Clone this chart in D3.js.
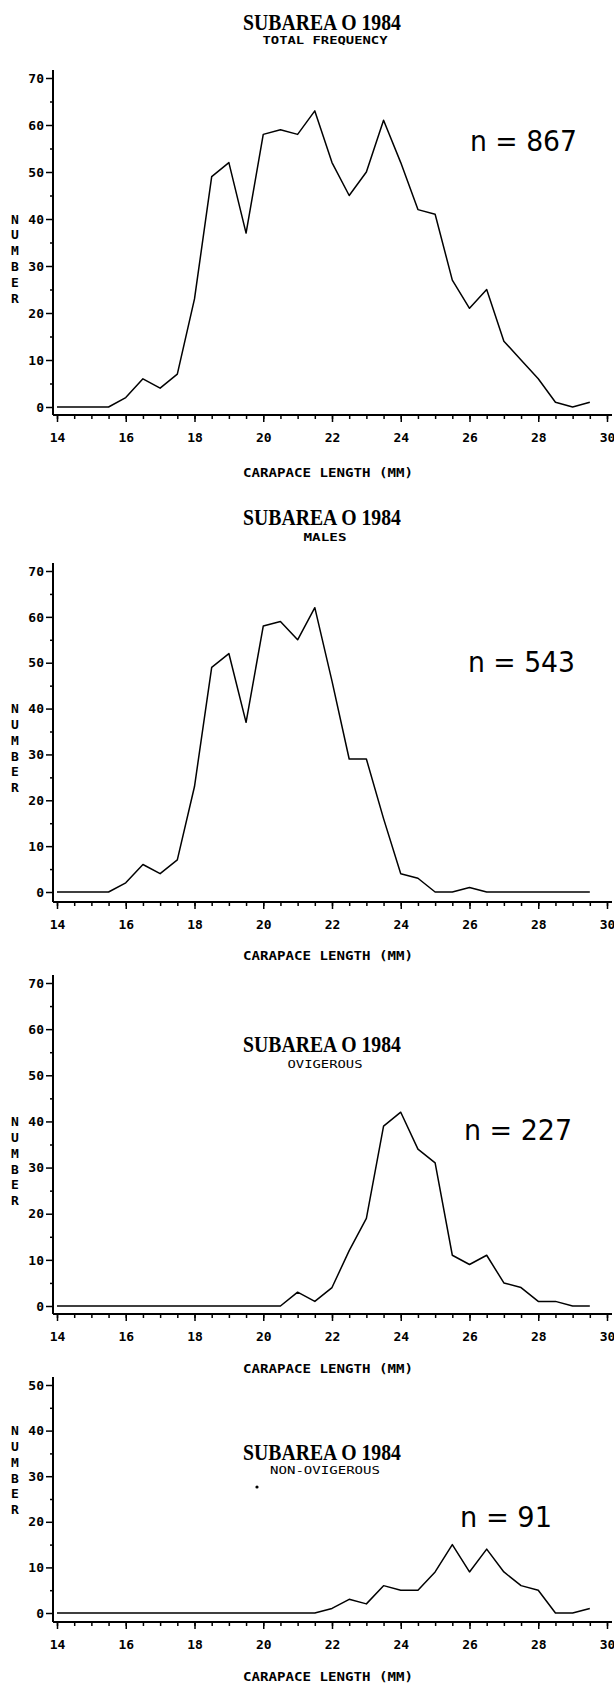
<!DOCTYPE html>
<html>
<head>
<meta charset="utf-8">
<script src="https://cdn.jsdelivr.net/npm/d3@7"></script>
<style>
  body { margin: 0; background: #fff; }
  svg { display: block; }
</style>
</head>
<body>
<div id="chart"></div>
<script>
// carapace length classes (mm)
const sizes = [14, 14.5, 15, 15.5, 16, 16.5, 17, 17.5, 18, 18.5, 19, 19.5, 20, 20.5, 21, 21.5,
  22, 22.5, 23, 23.5, 24, 24.5, 25, 25.5, 26, 26.5, 27, 27.5, 28, 28.5, 29, 29.5];

// counts
const totalFreq = [0, 0, 0, 0, 2, 6, 4, 7, 23, 49, 52, 37, 58, 59, 58, 63,
  52, 45, 50, 61, 52, 42, 41, 27, 21, 25, 14, 10, 6, 1, 0, 1];
const males = [0, 0, 0, 0, 2, 6, 4, 7, 23, 49, 52, 37, 58, 59, 55, 62,
  46, 29, 29, 16, 4, 3, 0, 0, 1, 0, 0, 0, 0, 0, 0, 0];
const ovigerous = [0, 0, 0, 0, 0, 0, 0, 0, 0, 0, 0, 0, 0, 0, 3, 1,
  4, 12, 19, 39, 42, 34, 31, 11, 9, 11, 5, 4, 1, 1, 0, 0];
const nonOvigerous = [0, 0, 0, 0, 0, 0, 0, 0, 0, 0, 0, 0, 0, 0, 0, 0,
  1, 3, 2, 6, 5, 5, 9, 15, 9, 14, 9, 6, 5, 0, 0, 1];

const title = "SUBAREA O 1984";
const subtitles = ["TOTAL FREQUENCY", "MALES", "OVIGEROUS", "NON-OVIGEROUS"];
const nLabels = ["n = 867", "n = 543", "n = 227", "n = 91"];
const xTicks = [14, 16, 18, 20, 22, 24, 26, 28, 30];
const yTicks70 = [0, 10, 20, 30, 40, 50, 60, 70];
const yTicks50 = [0, 10, 20, 30, 40, 50];
const xLabel = "CARAPACE LENGTH (MM)";
const yLabel = "NUMBER";

const W = 614, H = 1684;
const monoFont = "'DejaVu Sans Mono', monospace";

// page layout of the four stacked plots
const panels = [
  { values: totalFreq, yTicks: yTicks70, titleY: 30, subY: 44, subW: 125, subBold: true,
    yTop: 78, yZero: 407, axisY: 415, nX: 470, nY: 151, nW: 107, xLabY: 477 },
  { values: males, yTicks: yTicks70, titleY: 525, subY: 541, subW: 43, subBold: true,
    yTop: 571, yZero: 892, axisY: 902, nX: 468, nY: 672, nW: 107, xLabY: 960 },
  { values: ovigerous, yTicks: yTicks70, titleY: 1052, subY: 1068, subW: 75, subBold: false,
    yTop: 983, yZero: 1306, axisY: 1314, nX: 464, nY: 1140, nW: 108, xLabY: 1373 },
  { values: nonOvigerous, yTicks: yTicks50, titleY: 1460, subY: 1474, subW: 110, subBold: false,
    yTop: 1385, yZero: 1613, axisY: 1622, nX: 460, nY: 1527, nW: 92, xLabY: 1681 }
];

const svg = d3.select("#chart").append("svg")
  .attr("width", W)
  .attr("height", H);

svg.append("rect").attr("width", W).attr("height", H).attr("fill", "#fff");

const x = d3.scaleLinear().domain([14, 30]).range([57, 607]);
const axisX = 53;

panels.forEach((p, i) => {
  const g = svg.append("g");
  const yMax = d3.max(p.yTicks);
  const y = d3.scaleLinear().domain([0, yMax]).range([p.yZero, p.yTop]);

  // titles
  g.append("text")
    .attr("x", 322).attr("y", p.titleY)
    .attr("text-anchor", "middle")
    .attr("font-family", "'Liberation Serif', serif")
    .attr("font-weight", "bold")
    .attr("font-size", 24)
    .attr("textLength", 158)
    .attr("lengthAdjust", "spacingAndGlyphs")
    .text(title);

  g.append("text")
    .attr("x", 325).attr("y", p.subY)
    .attr("text-anchor", "middle")
    .attr("font-family", monoFont)
    .attr("font-weight", p.subBold ? "bold" : "normal")
    .attr("font-size", 10)
    .attr("textLength", p.subW)
    .attr("lengthAdjust", "spacingAndGlyphs")
    .text(subtitles[i]);

  // axis lines
  g.append("line")
    .attr("x1", axisX).attr("x2", axisX)
    .attr("y1", p.yTop - 8).attr("y2", p.axisY)
    .attr("stroke", "#000").attr("stroke-width", 2);
  g.append("line")
    .attr("x1", axisX).attr("x2", 612)
    .attr("y1", p.axisY).attr("y2", p.axisY)
    .attr("stroke", "#000").attr("stroke-width", 2);

  // x ticks: minor every 0.5 mm, major every 2 mm
  const xMinor = g.append("g")
    .attr("transform", `translate(0,${p.axisY})`)
    .call(d3.axisBottom(x).tickValues(d3.range(14, 30.01, 0.5)).tickSize(4).tickFormat(""));
  xMinor.select(".domain").remove();

  const xMajor = g.append("g")
    .attr("transform", `translate(0,${p.axisY})`)
    .call(d3.axisBottom(x).tickValues(xTicks).tickSize(7).tickPadding(11).tickFormat(d3.format("d")));
  xMajor.select(".domain").remove();
  xMajor.selectAll("text")
    .attr("font-family", monoFont)
    .attr("font-weight", "bold")
    .attr("font-size", 13)
    .attr("fill", "#000");

  // y ticks
  const yMinor = g.append("g")
    .attr("transform", `translate(${axisX},0)`)
    .call(d3.axisLeft(y).tickValues(d3.range(5, yMax, 10)).tickSize(3).tickFormat(""));
  yMinor.select(".domain").remove();

  const yMajor = g.append("g")
    .attr("transform", `translate(${axisX},0)`)
    .call(d3.axisLeft(y).tickValues(p.yTicks).tickSize(7).tickPadding(2).tickFormat(d3.format("d")));
  yMajor.select(".domain").remove();
  yMajor.selectAll("text")
    .attr("font-family", monoFont)
    .attr("font-weight", "bold")
    .attr("font-size", 13)
    .attr("fill", "#000");
  g.selectAll(".tick line").attr("stroke-width", 1.5);

  // vertical NUMBER label, starting at the 40 tick
  g.append("g").selectAll("text")
    .data(yLabel.split(""))
    .enter().append("text")
    .attr("x", 15)
    .attr("y", (d, k) => y(40) + k * 15.8)
    .attr("dy", "0.36em")
    .attr("text-anchor", "middle")
    .attr("font-family", monoFont)
    .attr("font-weight", "bold")
    .attr("font-size", 13)
    .text(d => d);

  // x axis title
  g.append("text")
    .attr("x", 328).attr("y", p.xLabY)
    .attr("text-anchor", "middle")
    .attr("font-family", monoFont)
    .attr("font-weight", "bold")
    .attr("font-size", 12)
    .attr("textLength", 170)
    .attr("lengthAdjust", "spacingAndGlyphs")
    .text(xLabel);

  // frequency polygon
  const line = d3.line()
    .x((d, k) => x(sizes[k]))
    .y(d => y(d));
  g.append("path")
    .datum(p.values)
    .attr("fill", "none")
    .attr("stroke", "#000")
    .attr("stroke-width", 1.5)
    .attr("stroke-linejoin", "round")
    .attr("d", line);

  // sample size
  g.append("text")
    .attr("x", p.nX).attr("y", p.nY)
    .attr("font-family", "'DejaVu Sans', sans-serif")
    .attr("font-size", 29)
    .attr("textLength", p.nW)
    .attr("lengthAdjust", "spacingAndGlyphs")
    .text(nLabels[i]);
});

// stray speck in the last plot of the scan
svg.append("circle")
  .attr("cx", 257).attr("cy", 1487).attr("r", 1.6)
  .attr("fill", "#000");
</script>
</body>
</html>
